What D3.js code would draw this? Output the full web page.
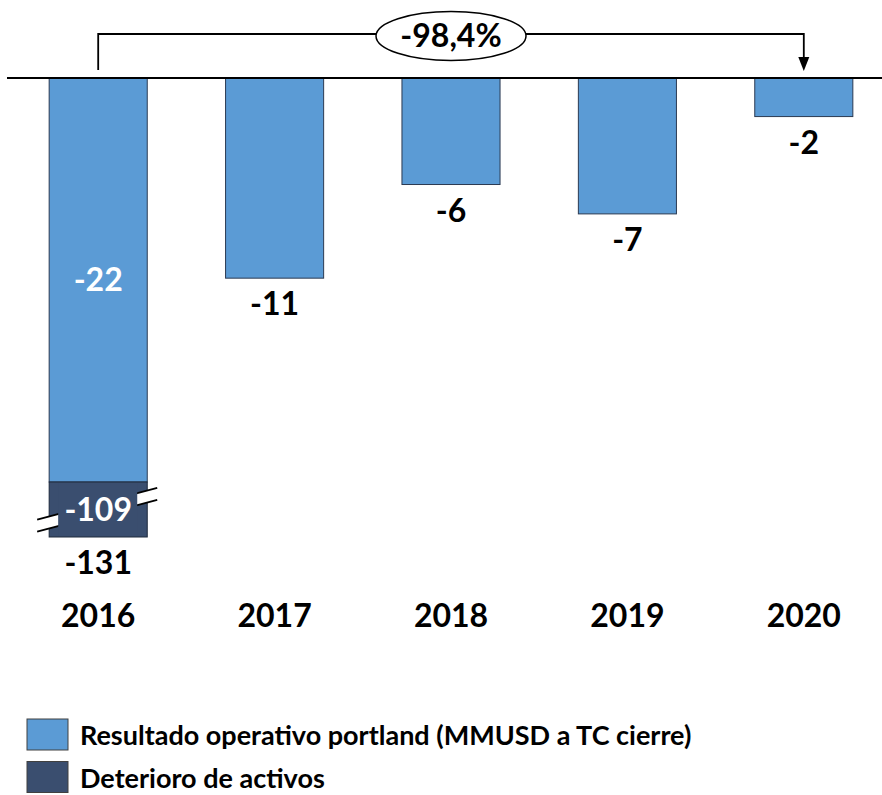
<!DOCTYPE html>
<html>
<head>
<meta charset="utf-8">
<script src="https://cdn.jsdelivr.net/npm/d3@7"></script>
<style>
  body { margin: 0; background: #fff; }
  text { font-family: Lato, "Open Sans", sans-serif; font-weight: bold; }
</style>
</head>
<body>
<div id="main"></div>
<script>
// Datos del gráfico
var years = ["2016", "2017", "2018", "2019", "2020"];
var resultado = [-22, -10.9, -5.8, -7.4, -2.1];
var deterioro = [-109, 0, 0, 0, 0];
var seriesNames = ["Resultado operativo portland (MMUSD a TC cierre)", "Deterioro de activos"];
var seriesColors = ["#5B9BD5", "#3A4E6F"];

var width = 882, height = 795;
var baseY = 78;

var svg = d3.select("#main").append("svg")
  .attr("width", width)
  .attr("height", height);

var x = d3.scaleBand()
  .domain(years)
  .range([10, 892])
  .paddingInner(0.444)
  .paddingOuter(0.222);

// escala con corte: el tramo de deterioro va comprimido
var y = d3.scaleLinear()
  .domain([0, -22, -131])
  .range([baseY, 482, 537]);

var rows = years.map(function(d, i) {
  return { year: d, res: resultado[i], det: deterioro[i], total: resultado[i] + deterioro[i] };
});

// barras resultado
svg.selectAll("rect.res").data(rows).enter().append("rect")
  .attr("class", "res")
  .attr("x", function(d) { return x(d.year); })
  .attr("y", y(0))
  .attr("width", x.bandwidth())
  .attr("height", function(d) { return y(d.res) - y(0); })
  .attr("fill", seriesColors[0])
  .attr("stroke", "#2B3A52")
  .attr("stroke-width", 1);

// barras deterioro
var detRows = rows.filter(function(d) { return d.det !== 0; });
svg.selectAll("rect.det").data(detRows).enter().append("rect")
  .attr("class", "det")
  .attr("x", function(d) { return x(d.year); })
  .attr("y", function(d) { return y(d.res); })
  .attr("width", x.bandwidth())
  .attr("height", function(d) { return y(d.total) - y(d.res); })
  .attr("fill", seriesColors[1])
  .attr("stroke", "#1E2A3C")
  .attr("stroke-width", 1);

// marca de corte del eje
detRows.forEach(function(d) {
  var x0 = x(d.year) - 12, x1 = x(d.year) + x.bandwidth() + 10;
  var cx = x(d.year) + x.bandwidth() / 2;
  var cy = (y(d.res) + y(d.total)) / 2;
  var slope = -0.264, half = 6;
  function yy(px) { return cy + (px - cx) * slope; }
  svg.append("polygon")
    .attr("points", [[x0, yy(x0) - half], [x1, yy(x1) - half], [x1, yy(x1) + half], [x0, yy(x0) + half]].join(" "))
    .attr("fill", "#fff");
  [-half, half].forEach(function(o) {
    svg.append("line")
      .attr("x1", x0).attr("y1", yy(x0) + o)
      .attr("x2", x1).attr("y2", yy(x1) + o)
      .attr("stroke", "#000").attr("stroke-width", 1.8);
  });
  svg.append("rect")
    .attr("x", x(d.year) + 9)
    .attr("y", y(d.res) + 1)
    .attr("width", x.bandwidth() - 19)
    .attr("height", y(d.total) - y(d.res) - 2)
    .attr("fill", seriesColors[1]);
});

// línea base
svg.append("line")
  .attr("x1", 7).attr("x2", width)
  .attr("y1", baseY).attr("y2", baseY)
  .attr("stroke", "#000").attr("stroke-width", 1.8);

var fmt = function(v) { return String(Math.round(v)); };

// etiquetas dentro de la barra de 2016
detRows.forEach(function(d) {
  var cx = x(d.year) + x.bandwidth() / 2;
  svg.append("text")
    .attr("x", cx).attr("y", (y(0) + y(d.res)) / 2 + 11)
    .attr("text-anchor", "middle").attr("font-size", 32)
    .attr("fill", "#fff").text(fmt(d.res));
  svg.append("text")
    .attr("x", cx).attr("y", (y(d.res) + y(d.total)) / 2 + 11)
    .attr("text-anchor", "middle").attr("font-size", 32)
    .attr("fill", "#fff").text(fmt(d.det));
});

// etiquetas de total bajo las barras
svg.selectAll("text.total").data(rows).enter().append("text")
  .attr("class", "total")
  .attr("x", function(d) { return x(d.year) + x.bandwidth() / 2; })
  .attr("y", function(d) { return y(d.total) + 37; })
  .attr("text-anchor", "middle")
  .attr("font-size", 32)
  .attr("fill", "#000")
  .text(function(d) { return fmt(d.total); });

// etiquetas de años
svg.selectAll("text.year").data(years).enter().append("text")
  .attr("class", "year")
  .attr("x", function(d) { return x(d) + x.bandwidth() / 2; })
  .attr("y", 627)
  .attr("text-anchor", "middle")
  .attr("font-size", 32)
  .attr("fill", "#000")
  .text(function(d) { return d; });

// flecha de variación 2016 -> 2020
var first = rows[0], last = rows[rows.length - 1];
var variation = (last.total / first.total - 1) * 100;
var varText = d3.format(".1f")(variation).replace(".", ",").replace("−", "-") + "%";
var xa = x(first.year) + x.bandwidth() / 2;
var xb = x(last.year) + x.bandwidth() / 2;
var topY = 34, tipY = 71;

svg.append("path")
  .attr("d", "M" + xa + "," + (tipY - 1) + " V" + topY + " H" + xb + " V" + (tipY - 12))
  .attr("fill", "none")
  .attr("stroke", "#000")
  .attr("stroke-width", 1.8);
svg.append("path")
  .attr("d", "M" + (xb - 5.5) + "," + (tipY - 14) + " L" + (xb + 5.5) + "," + (tipY - 14) + " L" + xb + "," + tipY + " Z")
  .attr("fill", "#000");

var ex = (xa + xb) / 2;
svg.append("ellipse")
  .attr("cx", ex).attr("cy", 36)
  .attr("rx", 75).attr("ry", 24.5)
  .attr("fill", "#fff")
  .attr("stroke", "#000")
  .attr("stroke-width", 1.5);
svg.append("text")
  .attr("x", ex).attr("y", 47)
  .attr("text-anchor", "middle")
  .attr("font-size", 32)
  .attr("fill", "#000")
  .text(varText);

// leyenda
var legend = svg.selectAll("g.legend").data(seriesNames).enter().append("g")
  .attr("class", "legend")
  .attr("transform", function(d, i) { return "translate(27," + (719 + i * 42.5) + ")"; });
legend.append("rect")
  .attr("width", 41).attr("height", 31)
  .attr("fill", function(d, i) { return seriesColors[i]; })
  .attr("stroke", "#404040")
  .attr("stroke-width", 1);
legend.append("text")
  .attr("x", 53).attr("y", 26)
  .attr("font-size", 27)
  .attr("fill", "#000")
  .text(function(d) { return d; });
</script>
</body>
</html>
